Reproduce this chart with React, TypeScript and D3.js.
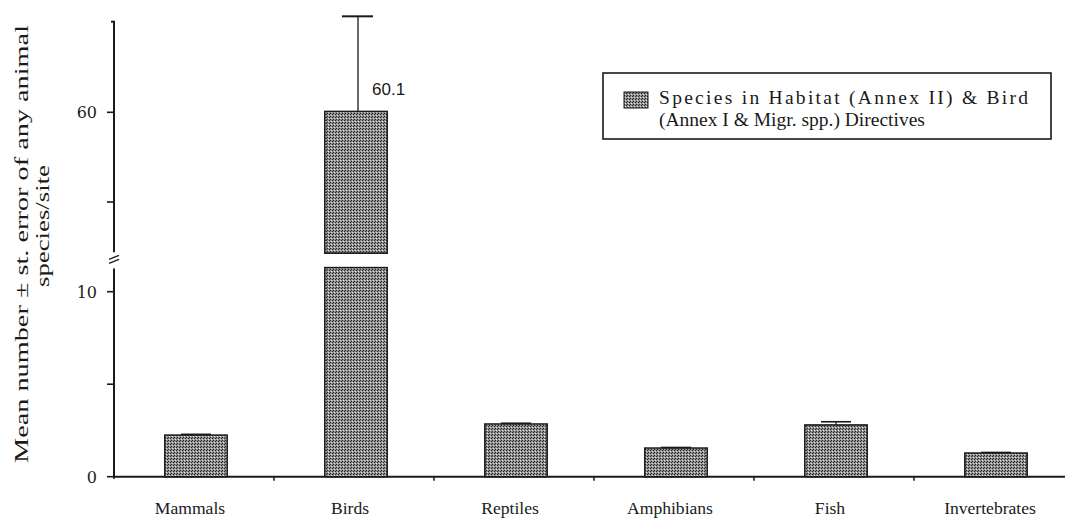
import React from "react";
import * as d3 from "d3";

const categories = ["Mammals", "Birds", "Reptiles", "Amphibians", "Fish", "Invertebrates"];
const means = [2.25, 60.1, 2.85, 1.55, 2.8, 1.28];
const errors = [0.04, 10.6, 0.04, 0.03, 0.17, 0.03];
const lowTicks = [0, 5, 10];
const lowTickLabels = ["0", "", "10"];
const highTicks = [50, 60];
const highTickLabels = ["", "60"];
const valueLabel = "60.1";
const legendLines = ["Species in Habitat (Annex II) & Bird", "(Annex I & Migr. spp.) Directives"];
const yTitle1 = "Mean number \u00b1 st. error of any animal";
const yTitle2 = "species/site";

const W = 1065;
const H = 519;
const axisX = 114;
const baseY = 476.7;
const lowTop = 11.25;
const highBottom = 44.4;
const highTop = 70.1;

const yLow = d3.scaleLinear().domain([0, 10]).range([baseY, 291.7]);
const yHigh = d3.scaleLinear().domain([50, 60]).range([202, 112.3]);
const x = d3.scaleBand().domain(categories).range([axisX, axisX + 960]);

const serif = "'Liberation Serif', 'Times New Roman', serif";
const tickFont = "'DejaVu Serif', 'Liberation Serif', serif";
const sans = "'Liberation Sans', Arial, sans-serif";
const ink = "#1a1a1a";

export default function App() {
  const bw = x.bandwidth();
  const barW = bw * 0.39;
  const barX = (c: string) => (x(c) as number) + (bw - barW) / 2 + 2;
  const barC = (c: string) => barX(c) + barW / 2;
  const yVal = (v: number) => (v > lowTop ? yHigh(v) : yLow(v));
  const breakLowY = yLow(lowTop);
  const breakHighY = yHigh(highBottom);
  const breakMid = (breakLowY + breakHighY) / 2;

  return (
    <svg width={W} height={H} style={{ position: "absolute", left: 0, top: 0, background: "#fff" }}>
      <defs>
        <pattern id="hatch" width="3" height="3" patternUnits="userSpaceOnUse">
          <rect width="3" height="3" fill="#c2c2c2" />
          <path d="M0,3 L3,0 M-1,1 L1,-1 M2,4 L4,2" stroke="#222" strokeWidth="1.2" />
          <rect x="1" y="1" width="1" height="1" fill="#e6e6e6" />
        </pattern>
      </defs>

      {/* Y axis title */}
      <text
        transform={`translate(28,244) rotate(-90)`}
        textAnchor="middle"
        fontFamily={serif}
        fontSize={19}
        fill={ink}
        textLength={438}
        lengthAdjust="spacingAndGlyphs"
      >
        {yTitle1}
      </text>
      <text
        transform={`translate(49,226) rotate(-90)`}
        textAnchor="middle"
        fontFamily={serif}
        fontSize={19}
        fill={ink}
        textLength={122}
        lengthAdjust="spacingAndGlyphs"
      >
        {yTitle2}
      </text>

      {/* Y axis: upper segment */}
      <line x1={axisX} x2={axisX} y1={yHigh(highTop)} y2={breakHighY} stroke={ink} strokeWidth={2} />
      <line x1={axisX - 3} x2={axisX + 1} y1={yHigh(highTop)} y2={yHigh(highTop)} stroke={ink} strokeWidth={2} />
      {highTicks.map((t, i) => (
        <g key={"h" + t}>
          <line x1={axisX - 7} x2={axisX} y1={yHigh(t)} y2={yHigh(t)} stroke={ink} strokeWidth={1.6} />
          <text x={97} y={yHigh(t) + 6} textAnchor="end" fontFamily={tickFont} fontSize={16} fill={ink}>
            {highTickLabels[i]}
          </text>
        </g>
      ))}
      {/* break marks */}
      <line x1={axisX - 5} x2={axisX + 5} y1={breakMid - 1} y2={breakMid - 5} stroke={ink} strokeWidth={1.3} />
      <line x1={axisX - 5} x2={axisX + 5} y1={breakMid + 3} y2={breakMid - 1} stroke={ink} strokeWidth={1.3} />

      {/* Y axis: lower segment */}
      <line x1={axisX} x2={axisX} y1={breakLowY} y2={baseY + 2} stroke={ink} strokeWidth={2} />
      {lowTicks.map((t, i) => (
        <g key={"l" + t}>
          <line x1={axisX - 7} x2={axisX} y1={yLow(t)} y2={yLow(t)} stroke={ink} strokeWidth={1.6} />
          <text x={97} y={yLow(t) + 6} textAnchor="end" fontFamily={tickFont} fontSize={16} fill={ink}>
            {lowTickLabels[i]}
          </text>
        </g>
      ))}

      {/* X axis */}
      <line x1={axisX} x2={W} y1={baseY} y2={baseY} stroke={ink} strokeWidth={2} />
      {categories.slice(1).map((c) => (
        <line key={"t" + c} x1={x(c) as number} x2={x(c) as number} y1={baseY} y2={baseY + 4} stroke={ink} strokeWidth={1.5} />
      ))}

      {/* Bars */}
      {categories.map((c, i) => {
        const v = means[i];
        const e = errors[i];
        const cx = barC(c);
        if (v > lowTop) {
          return (
            <g key={c}>
              <rect x={barX(c)} width={barW} y={yLow(lowTop) - 1} height={baseY - yLow(lowTop) + 1} fill="url(#hatch)" stroke={ink} strokeWidth={1.5} />
              <rect x={barX(c)} width={barW} y={yHigh(v)} height={breakHighY + 1 - yHigh(v)} fill="url(#hatch)" stroke={ink} strokeWidth={1.5} />
              <line x1={cx + 2} x2={cx + 2} y1={yHigh(v)} y2={yHigh(v + e)} stroke={ink} strokeWidth={1.3} />
              <line x1={cx - 14} x2={cx + 17} y1={yHigh(v + e)} y2={yHigh(v + e)} stroke={ink} strokeWidth={2} />
              <text x={cx + 16} y={yHigh(v) - 16} fontFamily={sans} fontSize={17} fill={ink}>
                {valueLabel}
              </text>
            </g>
          );
        }
        return (
          <g key={c}>
            <rect x={barX(c)} width={barW} y={yVal(v)} height={baseY - yVal(v)} fill="url(#hatch)" stroke={ink} strokeWidth={1.5} />
            <line x1={cx} x2={cx} y1={yVal(v)} y2={yVal(v + e)} stroke={ink} strokeWidth={1.2} />
            <line x1={cx - 15} x2={cx + 15} y1={yVal(v + e)} y2={yVal(v + e)} stroke={ink} strokeWidth={1.6} />
          </g>
        );
      })}

      {/* Category labels */}
      {categories.map((c) => (
        <text
          key={"lab" + c}
          transform={`translate(${(x(c) as number) + bw / 2 - 4},514) scale(1.1,1)`}
          textAnchor="middle"
          fontFamily={serif}
          fontSize={16}
          fill={ink}
        >
          {c}
        </text>
      ))}

      {/* Legend */}
      <rect x={603} y={73} width={448} height={66} fill="#fff" stroke={ink} strokeWidth={1.6} />
      <rect x={624} y={92} width={24} height={16} fill="url(#hatch)" stroke={ink} strokeWidth={1} />
      <text x={659} y={104} fontFamily={serif} fontSize={19.5} fill={ink} textLength={369} lengthAdjust="spacing">
        {legendLines[0]}
      </text>
      <text x={659} y={126} fontFamily={serif} fontSize={19.5} fill={ink}>
        {legendLines[1]}
      </text>
    </svg>
  );
}
